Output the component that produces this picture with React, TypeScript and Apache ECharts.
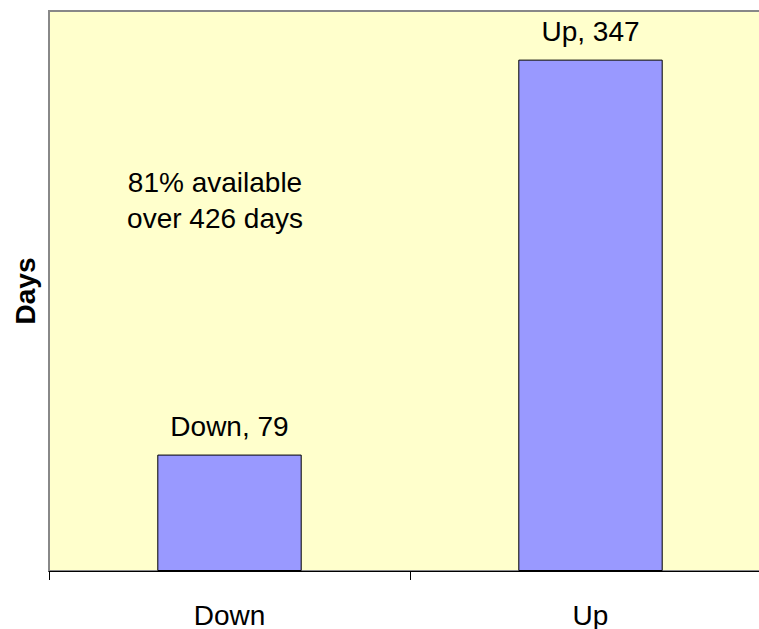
import React, { useEffect, useRef } from "react";
import * as echarts from "echarts";

const categories = ["Down", "Up"];
const days = [79, 347];
const yAxisName = "Days";

const FONT = "'Liberation Sans', Arial, Helvetica, sans-serif";

export default function App() {
  const ref = useRef<HTMLDivElement>(null);
  useEffect(() => {
    if (!ref.current) return;
    const chart = echarts.init(ref.current, undefined, { renderer: "svg" });
    const total = days.reduce((a, b) => a + b, 0);
    const upIdx = categories.indexOf("Up");
    const pct = Math.round((days[upIdx] / total) * 100);
    chart.setOption({
      animation: false,
      textStyle: { fontFamily: FONT },
      grid: {
        left: 49,
        top: 11,
        right: 0,
        bottom: 58,
        show: true,
        backgroundColor: "#FFFFCC",
        borderColor: "#888888",
        borderWidth: 2,
      },
      xAxis: {
        type: "category",
        data: categories,
        axisLine: { show: true, lineStyle: { color: "#000", width: 1 } },
        axisTick: { show: true, length: 9, alignWithLabel: false, lineStyle: { color: "#000" } },
        axisLabel: { color: "#000", fontSize: 28, fontFamily: FONT, margin: 30 },
        splitLine: { show: false },
      },
      yAxis: {
        type: "value",
        min: 0,
        max: 380,
        axisLine: { show: false },
        axisTick: { show: false },
        axisLabel: { show: false },
        splitLine: { show: false },
        name: yAxisName,
        nameLocation: "middle",
        nameRotate: 90,
        nameGap: 10,
        nameTextStyle: { color: "#000", fontSize: 28, fontWeight: "bold", fontFamily: FONT },
      },
      series: [
        {
          type: "bar",
          data: days,
          barWidth: "40%",
          itemStyle: { color: "#9999FF", borderColor: "#000", borderWidth: 1 },
          label: {
            show: true,
            position: "top",
            distance: 14,
            formatter: "{b}, {c}",
            color: "#000",
            fontSize: 28,
            fontFamily: FONT,
          },
        },
      ],
      graphic: [
        {
          type: "text",
          x: 215,
          y: 200,
          style: {
            text: `${pct}% available\nover ${total} days`,
            fill: "#000",
            font: `28px ${FONT}`,
            fontSize: 28,
            fontFamily: FONT,
            lineHeight: 36,
            align: "center",
            verticalAlign: "middle",
          },
        },
      ],
    });
    return () => chart.dispose();
  }, []);
  return (
    <div
      style={{ position: "absolute", left: 0, top: 0, width: 759, height: 629, overflow: "hidden" }}
    >
      <div ref={ref} style={{ width: 771, height: 629 }} />
    </div>
  );
}
